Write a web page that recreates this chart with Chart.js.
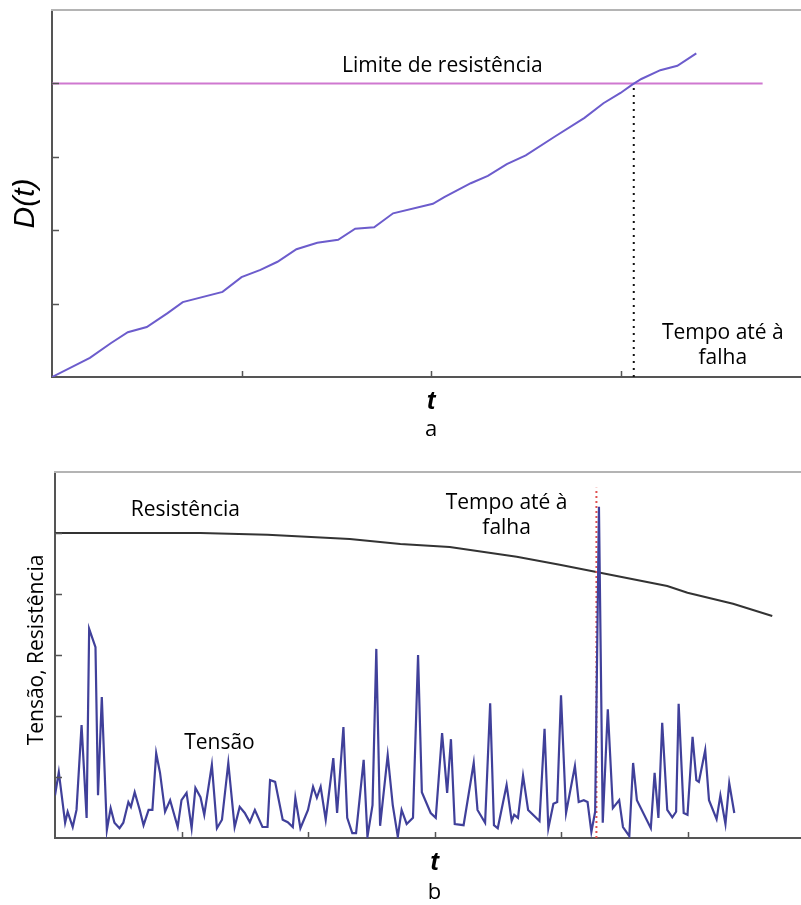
<!DOCTYPE html>
<html lang="pt">
<head>
<meta charset="utf-8">
<title>Dano acumulado e tensão-resistência</title>
<script src="https://cdn.jsdelivr.net/npm/chart.js@4.4.1/dist/chart.umd.min.js"></script>
<style>
  html, body { margin: 0; padding: 0; background: #fff; overflow: hidden; }
  #wrap { position: relative; width: 801px; height: 905px; overflow: hidden; }
  #chartA { position: absolute; left: 0; top: 0; }
  #chartB { position: absolute; left: 0; top: 445px; }
</style>
</head>
<body>
<div id="wrap">
  <canvas id="chartA" width="810" height="445"></canvas>
  <canvas id="chartB" width="814" height="460"></canvas>
</div>
<script>
// (a) dano acumulado D(t)
const damageT = [0, 0.20, 0.31, 0.40, 0.50, 0.61, 0.69, 0.90, 1.00, 1.10, 1.19, 1.29, 1.40, 1.51, 1.60, 1.70,
  1.80, 2.01, 2.07, 2.21, 2.30, 2.40, 2.50, 2.65, 2.81, 2.91, 3.00, 3.06, 3.11, 3.21, 3.30, 3.40];
const damageD = [0, 0.26, 0.46, 0.61, 0.68, 0.87, 1.02, 1.16, 1.36, 1.46, 1.57, 1.74, 1.83, 1.87, 2.02, 2.04,
  2.23, 2.36, 2.45, 2.64, 2.74, 2.90, 3.02, 3.27, 3.53, 3.73, 3.87, 3.98, 4.06, 4.18, 4.24, 4.41];
const strengthLimit = 4;
const limitEnd = 3.75;
const failureTimeA = 3.07;

// (b) tensão e resistência ao longo do tempo
const stressT = [0, 0.03, 0.08, 0.10, 0.14, 0.17, 0.21, 0.25, 0.27, 0.32,
  0.34, 0.37, 0.41, 0.44, 0.47, 0.51, 0.54, 0.58, 0.60, 0.63,
  0.67, 0.70, 0.74, 0.77, 0.80, 0.83, 0.87, 0.91, 0.97, 1.00,
  1.04, 1.08, 1.11, 1.15, 1.18, 1.24, 1.28, 1.32, 1.37, 1.42,
  1.46, 1.50, 1.54, 1.58, 1.64, 1.68, 1.70, 1.74, 1.80, 1.84,
  1.88, 1.90, 1.94, 2.00, 2.04, 2.07, 2.10, 2.14, 2.20, 2.23,
  2.28, 2.31, 2.35, 2.38, 2.44, 2.47, 2.51, 2.54, 2.57, 2.63,
  2.67, 2.71, 2.74, 2.78, 2.83, 2.87, 2.90, 2.97, 3.01, 3.06,
  3.10, 3.13, 3.16, 3.23, 3.31, 3.34, 3.40, 3.44, 3.47, 3.50,
  3.57, 3.61, 3.63, 3.66, 3.70, 3.74, 3.83, 3.87, 3.90, 3.94,
  3.97, 4.00, 4.04, 4.11, 4.14, 4.18, 4.21, 4.24, 4.27, 4.30,
  4.33, 4.37, 4.41, 4.46, 4.49, 4.54, 4.57, 4.60, 4.71, 4.74,
  4.77, 4.80, 4.84, 4.88, 4.91, 4.93, 4.97, 5.00, 5.04, 5.07,
  5.09, 5.14, 5.17, 5.23, 5.26, 5.30, 5.33, 5.37];
const stressV = [0.70, 1.08, 0.25, 0.43, 0.18, 0.46, 1.85, 0.33, 3.43, 3.13,
  0.70, 2.31, 0.13, 0.49, 0.25, 0.16, 0.25, 0.59, 0.51, 0.75,
  0.46, 0.21, 0.46, 0.46, 1.39, 1.07, 0.43, 0.62, 0.18, 0.62,
  0.74, 0.16, 0.82, 0.67, 0.38, 1.20, 0.16, 0.30, 1.23, 0.18,
  0.51, 0.41, 0.26, 0.46, 0.18, 0.18, 0.95, 0.92, 0.30, 0.26,
  0.18, 0.66, 0.16, 0.46, 0.84, 0.66, 0.84, 0.30, 1.31, 0.41,
  1.82, 0.33, 0.08, 0.08, 1.28, 0.02, 0.54, 3.10, 0.20, 1.36,
  0.54, 0.02, 0.46, 0.23, 0.33, 3.00, 0.75, 0.41, 0.33, 1.72,
  0.74, 1.62, 0.23, 0.21, 1.23, 0.46, 0.25, 2.21, 0.21, 0.16,
  0.87, 0.28, 0.38, 0.33, 1.02, 0.46, 0.28, 1.79, 0.16, 0.56,
  0.59, 2.34, 0.41, 1.18, 0.59, 0.62, 0.59, 0.10, 0.43, 5.43,
  0.25, 2.11, 0.49, 0.62, 0.18, 0.03, 1.23, 0.62, 0.16, 1.07,
  0.33, 1.89, 0.46, 0.34, 0.43, 2.20, 0.41, 0.38, 1.66, 0.95,
  0.92, 1.44, 0.62, 0.31, 0.70, 0.23, 0.90, 0.41];
const strengthT = [0, 1.15, 1.68, 2.33, 2.73, 3.12, 3.65, 3.99, 4.28, 4.84, 5.00, 5.36, 5.67];
const strengthV = [5.00, 5.00, 4.97, 4.90, 4.82, 4.77, 4.61, 4.48, 4.36, 4.13, 4.02, 3.84, 3.64];
const failureTimeB = 4.28;
const failureMarkTop = 5.74;

const TEXT_FONT = '21px "Open Sans"';

function toPoints(xs, ys) {
    return xs.map((x, i) => ({ x: x, y: ys[i] }));
}

// marcas de escala viradas para dentro do gráfico
const innerTicks = {
    id: 'innerTicks',
    afterDatasetsDraw(chart) {
        const { ctx, chartArea: area, scales: { x, y } } = chart;
        ctx.save();
        ctx.strokeStyle = '#555';
        ctx.lineWidth = 1.5;
        ctx.beginPath();
        x.ticks.forEach(tk => {
            if (tk.value <= x.min || tk.value >= x.max) return;
            const px = Math.round(x.getPixelForValue(tk.value)) + 0.5;
            ctx.moveTo(px, area.bottom);
            ctx.lineTo(px, area.bottom - 6);
        });
        y.ticks.forEach(tk => {
            if (tk.value <= y.min || tk.value >= y.max) return;
            const py = Math.round(y.getPixelForValue(tk.value)) + 0.5;
            ctx.moveTo(area.left, py);
            ctx.lineTo(area.left + 7, py);
        });
        ctx.stroke();
        ctx.restore();
    }
};

// textos: rótulos, títulos dos eixos e legenda (a / b)
const chartText = {
    id: 'chartText',
    afterDraw(chart, args, opts) {
        const { ctx, chartArea: area, scales: { x, y } } = chart;
        ctx.save();
        ctx.fillStyle = '#000';
        ctx.textAlign = 'center';
        ctx.textBaseline = 'middle';
        ctx.font = TEXT_FONT;
        opts.labels.forEach(l => {
            const lines = [].concat(l.text);
            const cx = x.getPixelForValue(l.x);
            const cy = y.getPixelForValue(l.y);
            lines.forEach((s, i) => ctx.fillText(s, cx, cy + (i - (lines.length - 1) / 2) * 25));
        });
        const midX = (area.left + area.right) / 2;
        ctx.font = 'italic bold 26px "Liberation Sans"';
        ctx.fillText('t', midX, area.bottom + 25);
        ctx.font = '22px "Open Sans"';
        ctx.fillText(opts.caption, midX, area.bottom + opts.captionGap);
        ctx.translate(opts.yTitleX, (area.top + area.bottom) / 2 + opts.yTitleShift);
        ctx.rotate(-Math.PI / 2);
        ctx.font = opts.yTitleFont;
        ctx.fillText(opts.yTitle, 0, 0);
        ctx.restore();
    }
};

function axes(xMax, yMax) {
    const hidden = { display: false, stepSize: 1 };
    const noGrid = { display: false, drawTicks: false };
    return {
        x: { type: 'linear', min: 0, max: xMax, ticks: hidden, grid: noGrid, border: { color: '#555', width: 2 } },
        y: { type: 'linear', min: 0, max: yMax, ticks: hidden, grid: noGrid, border: { color: '#555', width: 2 } },
        xTop: { axis: 'x', position: 'top', type: 'linear', min: 0, max: xMax, ticks: { display: false }, grid: noGrid, border: { color: '#b4b4b4', width: 2 } }
    };
}

new Chart(document.getElementById('chartA'), {
    type: 'line',
    data: {
        datasets: [
            { data: toPoints(damageT, damageD), borderColor: '#6c5ccc', borderWidth: 2 },
            { data: [{ x: 0, y: strengthLimit }, { x: limitEnd, y: strengthLimit }], borderColor: '#cf78d0', borderWidth: 2 },
            { data: [{ x: failureTimeA, y: 0 }, { x: failureTimeA, y: strengthLimit }], borderColor: '#111', borderWidth: 2, borderDash: [2, 5] }
        ]
    },
    options: {
        responsive: false,
        animation: false,
        elements: { point: { radius: 0 }, line: { tension: 0 } },
        layout: { padding: { left: 52, top: 10, right: 0, bottom: 68 } },
        scales: axes(4, 5),
        plugins: {
            legend: { display: false },
            tooltip: { enabled: false },
            chartText: {
                labels: [
                    { text: 'Limite de resistência', x: 2.06, y: 4.24 },
                    { text: ['Tempo até à', 'falha'], x: 3.54, y: 0.43 }
                ],
                caption: 'a',
                captionGap: 53,
                yTitle: 'D(t)',
                yTitleFont: 'italic 30px "Liberation Sans"',
                yTitleX: 26,
                yTitleShift: 10
            }
        }
    },
    plugins: [innerTicks, chartText]
});

new Chart(document.getElementById('chartB'), {
    type: 'line',
    data: {
        datasets: [
            { data: toPoints(stressT, stressV), borderColor: '#40409a', borderWidth: 2.2 },
            { data: [{ x: failureTimeB, y: 0 }, { x: failureTimeB, y: failureMarkTop }], borderColor: '#e05050', borderWidth: 2, borderDash: [2, 3] },
            { data: toPoints(strengthT, strengthV), borderColor: '#333', borderWidth: 2 }
        ]
    },
    options: {
        responsive: false,
        animation: false,
        elements: { point: { radius: 0 }, line: { tension: 0 } },
        layout: { padding: { left: 55, top: 27, right: 0, bottom: 67 } },
        scales: axes(6, 6),
        plugins: {
            legend: { display: false },
            tooltip: { enabled: false },
            chartText: {
                labels: [
                    { text: 'Resistência', x: 1.03, y: 5.38 },
                    { text: 'Tensão', x: 1.30, y: 1.56 },
                    { text: ['Tempo até à', 'falha'], x: 3.57, y: 5.28 }
                ],
                caption: 'b',
                captionGap: 55,
                yTitle: 'Tensão, Resistência',
                yTitleFont: TEXT_FONT,
                yTitleX: 37,
                yTitleShift: -5
            }
        }
    },
    plugins: [innerTicks, chartText]
});
</script>
</body>
</html>
